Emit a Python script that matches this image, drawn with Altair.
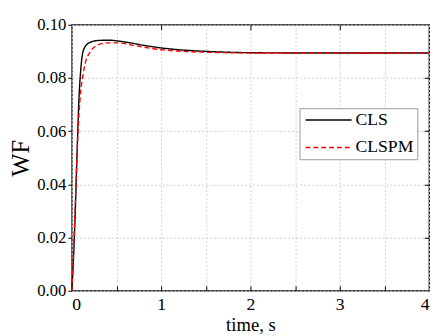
import altair as alt
import pandas as pd

# --- data ---
t_cls = [0, 0.02, 0.04, 0.06, 0.08, 0.10, 0.12, 0.15, 0.20, 0.30, 0.40, 0.60, 0.80, 1.00, 1.20, 1.50, 2.00, 2.50, 3.00, 4.00]
wf_cls = [0, 0.013, 0.031, 0.053, 0.072, 0.083, 0.0890, 0.0918, 0.0933, 0.0941, 0.0942, 0.0935, 0.0923, 0.0913, 0.0906, 0.0900, 0.0895, 0.0894, 0.0894, 0.0894]

t_clspm = [0, 0.02, 0.04, 0.06, 0.08, 0.10, 0.12, 0.15, 0.20, 0.30, 0.40, 0.50, 0.70, 1.00, 1.30, 1.60, 2.00, 2.50, 3.00, 4.00]
wf_clspm = [0, 0.015, 0.034, 0.052, 0.066, 0.075, 0.080, 0.0855, 0.0895, 0.0925, 0.0932, 0.0932, 0.0922, 0.0906, 0.0899, 0.0896, 0.0894, 0.0894, 0.0894, 0.0894]

series = ["CLS", "CLSPM"]
x_grid_values = [0, 0.5, 1, 1.5, 2, 2.5, 3, 3.5, 4]
x_minor_ticks = [0.5, 1, 1.5, 2, 2.5, 3, 3.5]
x_top_ticks = [1, 2, 3]
y_values = [0, 0.02, 0.04, 0.06, 0.08, 0.10]
y_inner_ticks = [0.02, 0.04, 0.06, 0.08]

df = pd.concat([
    pd.DataFrame({"t": t_cls, "wf": wf_cls, "series": series[0]}),
    pd.DataFrame({"t": t_clspm, "wf": wf_clspm, "series": series[1]}),
])

FONT = "Liberation Serif"

xscale = alt.Scale(domain=[0, 4], nice=False, zero=False)
yscale = alt.Scale(domain=[0, 0.1], nice=False, zero=False)

main = alt.Chart(df).mark_line(strokeWidth=1.4, interpolate="monotone").encode(
    x=alt.X("t:Q", scale=xscale,
            axis=alt.Axis(orient="bottom", values=x_grid_values, title="time, s",
                          labelExpr="datum.value % 1 == 0 ? format(datum.value, 'd') : ''",
                          grid=True, gridDash=[2, 2], gridColor="#cfcfcf", gridWidth=1,
                          ticks=False, domain=False, labelPadding=5,
                          labelFont=FONT, labelFontSize=18, labelColor="black",
                          titleFont=FONT, titleFontSize=19, titleFontWeight="normal",
                          titleColor="black", titlePadding=2)),
    y=alt.Y("wf:Q", scale=yscale,
            axis=alt.Axis(orient="left", values=y_values, format=".2f", title="WF",
                          grid=True, gridDash=[2, 2], gridColor="#cfcfcf", gridWidth=1,
                          ticks=True, tickSize=4, tickColor="black", domain=False,
                          labelPadding=2, labelFont=FONT, labelFontSize=17, labelColor="black",
                          titleFont=FONT, titleFontSize=25, titleFontWeight="normal",
                          titleColor="black", titlePadding=3)),
    color=alt.Color("series:N", scale=alt.Scale(domain=series, range=["black", "red"]),
                    legend=alt.Legend(title=None, orient="none", legendX=232, legendY=85,
                                      symbolType="M-1,0H7", symbolSize=138, symbolStrokeWidth=1.5,
                                      labelFont=FONT, labelFontSize=18, labelColor="black",
                                      labelOffset=36, rowPadding=10, padding=3,
                                      strokeColor="#999999", fillColor="white")),
    strokeDash=alt.StrokeDash("series:N", scale=alt.Scale(domain=series, range=[[1, 0], [5, 3]]),
                              legend=None),
)

top_right = alt.Chart(df).mark_point(opacity=0).encode(
    x=alt.X("t:Q", scale=xscale,
            axis=alt.Axis(orient="top", values=x_top_ticks, offset=-5, tickSize=5,
                          tickColor="black", labels=False, domain=False, grid=False, title=None)),
    y=alt.Y("wf:Q", scale=yscale,
            axis=alt.Axis(orient="right", values=y_inner_ticks, offset=-5, tickSize=5,
                          tickColor="black", labels=False, domain=False, grid=False, title=None)),
)

bottom_ticks = alt.Chart(df).mark_point(opacity=0).encode(
    x=alt.X("t:Q", scale=xscale,
            axis=alt.Axis(orient="bottom", values=x_minor_ticks, offset=-5, tickSize=5,
                          tickColor="black", labels=False, domain=False, grid=False, title=None)),
    y=alt.Y("wf:Q", scale=yscale, axis=None),
)

chart = alt.layer(main, top_right, bottom_ticks).resolve_axis(
    x="independent", y="independent"
).properties(
    width=364, height=271,
    background="white",
    autosize=alt.AutoSizeParams(type="none"),
    padding={"left": 65, "top": 14, "right": 4, "bottom": 42},
).configure(font=FONT).configure_view(stroke="black", strokeWidth=1.3)

chart.save("out.html", embed_options={"renderer": "svg", "actions": False})
